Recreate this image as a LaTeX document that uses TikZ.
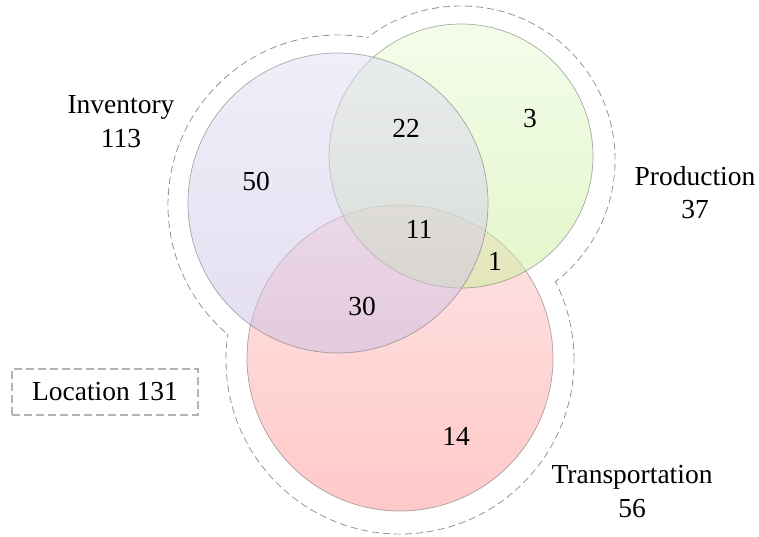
\documentclass[tikz,border=0pt]{standalone}
\usepackage{fontspec}
\setmainfont{Liberation Serif}
\definecolor{invTop}{RGB}{226,222,243}
\definecolor{invBot}{RGB}{203,191,230}
\definecolor{proTop}{RGB}{234,251,214}
\definecolor{proBot}{RGB}{200,240,150}
\definecolor{traTop}{RGB}{255,202,202}
\definecolor{traBot}{RGB}{255,148,148}
\definecolor{ringGray}{RGB}{150,150,150}
\definecolor{boxGray}{RGB}{180,180,180}
\begin{document}
\begin{tikzpicture}[x=1pt,y=-1pt,
  lbl/.style={font=\fontsize{27.5}{33}\selectfont, inner sep=0pt, anchor=base},
  ring/.style={draw=ringGray, line width=0.9pt, dash pattern=on 7pt off 4pt},
  rim/.style={draw=black!55, draw opacity=0.6, line width=0.7pt},
  setfill/.style={fill opacity=0.5}]
\useasboundingbox (0,0) rectangle (759,536);
% centres
\coordinate (ci) at (338,203);
\coordinate (cp) at (461,156);
\coordinate (ct) at (400,358);
\coordinate (ri) at (338,205);
\coordinate (rp) at (461,160);
\coordinate (rt) at (400,360);
% outer dashed outline of the union
\draw[ring] (ri) circle[radius=170pt];
\draw[ring] (rp) circle[radius=154pt];
\draw[ring] (rt) circle[radius=174pt];
\fill[white] (ri) circle[radius=169.3pt];
\fill[white] (rp) circle[radius=153.3pt];
\fill[white] (rt) circle[radius=173.3pt];
% sets (bottom to top: Transportation, Production, Inventory)
\shade[setfill, top color=traTop, bottom color=traBot] (ct) circle[radius=153pt];
\draw[rim] (ct) circle[radius=153pt];
\shade[setfill, top color=proTop, bottom color=proBot] (cp) circle[radius=132pt];
\draw[rim] (cp) circle[radius=132pt];
\shade[setfill, top color=invTop, bottom color=invBot] (ci) circle[radius=150pt];
\draw[rim] (ci) circle[radius=150pt];
% labels
\node[lbl] (invname) at (121,113) {Inventory};
\node[lbl] (invnum) at (121,147) {113};
\node[lbl] (prodname) at (695,185) {Production};
\node[lbl] (prodnum) at (695,218) {37};
\node[lbl] (trname) at (632,483) {Transportation};
\node[lbl] (trnum) at (632,517) {56};
\node[lbl] (n50) at (256,190) {50};
\node[lbl] (n22) at (406,137) {22};
\node[lbl] (n3) at (530,127) {3};
\node[lbl] (n11) at (419,238) {11};
\node[lbl] (n1) at (495,270) {1};
\node[lbl] (n30) at (362,315) {30};
\node[lbl] (n14) at (456,445) {14};
\node[draw=boxGray, line width=1.3pt, dash pattern=on 8pt off 4pt,
      minimum width=186pt, minimum height=46pt, inner sep=0pt,
      font=\fontsize{27.5}{33}\selectfont] (loc) at (105,392) {Location 131};
\end{tikzpicture}
\end{document}
